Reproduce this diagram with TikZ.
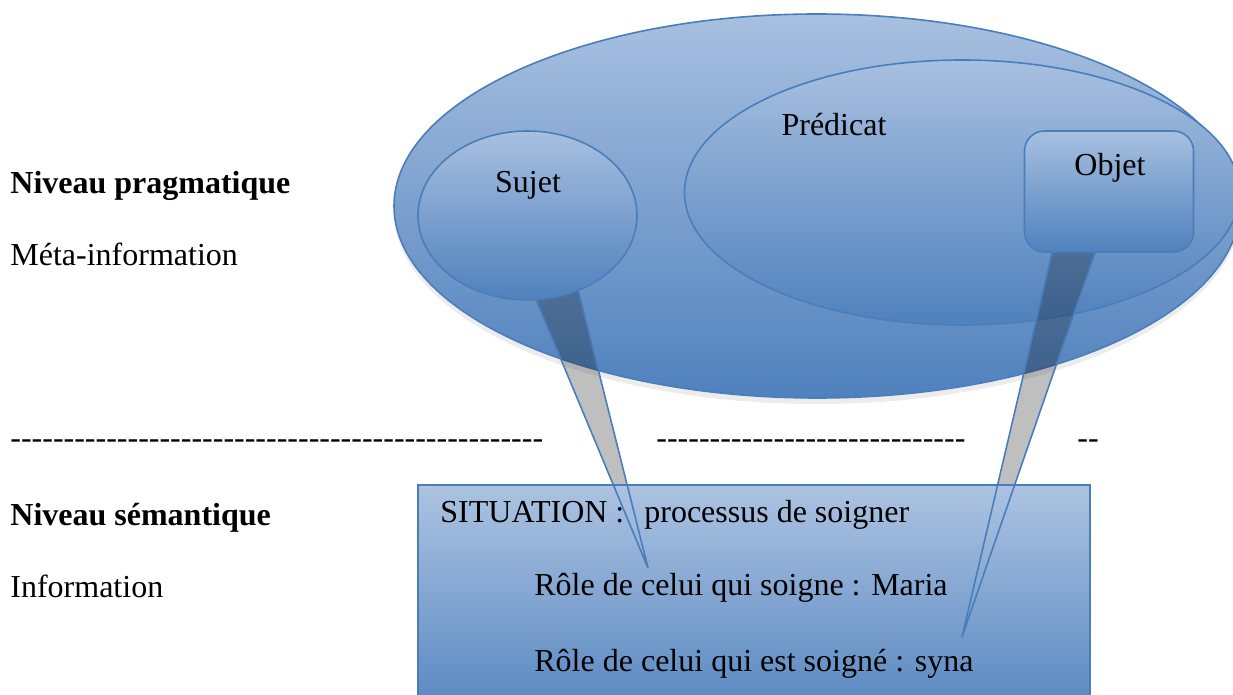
\documentclass[tikz,border=0pt]{standalone}
\usepackage{fontspec}
\setmainfont{Liberation Serif}[Ligatures=TeXOff]
\usetikzlibrary{positioning, shapes.geometric, shadows}
\definecolor{bleuhaut}{RGB}{168,192,224}
\definecolor{bleubas}{RGB}{79,129,189}
\definecolor{bleutrait}{RGB}{74,126,187}
\newcommand{\tirets}[1]{\foreach \n in {1,...,#1}{-}}
\pgfdeclarelayer{fond}
\pgfdeclarelayer{queues}
\pgfsetlayers{fond,queues,main}

\begin{document}
\begin{tikzpicture}[
    % GLOBAL CFG
    x=0.5pt, y=-0.5pt,
    font=\fontsize{16}{19}\selectfont,
    every node/.style={inner sep=0pt},
    % Styles
    bulle/.style={% For the ellipses
        ellipse,
        draw=bleutrait,
        line width=0.8pt,
        top color=bleuhaut,
        bottom color=bleubas,
        middle color=bleuhaut!50!bleubas,
    },
    boite/.style={% For the Objet box
        rectangle,
        rounded corners=10pt,
        draw=bleutrait,
        line width=0.8pt,
        top color=bleuhaut,
        bottom color=bleubas,
    },
    cadre/.style={% For the semantic frame
        rectangle,
        draw=bleutrait,
        line width=0.8pt,
        top color=bleuhaut!95!white,
        bottom color=bleubas,
    },
    ombre/.style={% Soft shadow under shapes
        drop shadow={shadow xshift=0pt, shadow yshift=-3pt, opacity=0.15},
    },
    queue/.style={% Fill of the callout tails
        fill=black,
        fill opacity=0.25,
    },
    queuebord/.style={% Border of the callout tails
        draw=bleutrait,
        line width=0.8pt,
    },
    titre/.style={
        font=\fontsize{16}{19}\selectfont\bfseries
    },
    ]

    \useasboundingbox (0,0) rectangle (1233,695);
    \clip (0,0) rectangle (1233,695);

    % Draw big shapes on the back layer
    \begin{pgfonlayer}{fond}
    \node [bulle, ombre, minimum width=423pt, minimum height=192pt] (phrase) at (817,206) {};
    \node [bulle, minimum width=277.5pt, minimum height=132.5pt] (predicat) at (962,192.5) {};
    \end{pgfonlayer}

    % Draw callouts
    \node [bulle, minimum width=109.5pt, minimum height=84.5pt] (sujet) at (527.5,215.5) {};
    \node [boite, minimum width=84.5pt, minimum height=60.5pt] (objet) at (1109,191.5) {};

    % Tips of the tails
    \coordinate (pointeS) at (648,568);
    \coordinate (pointeO) at (962,637);

    \begin{pgfonlayer}{queues}
    \fill [queue] (sujet.-84) -- (pointeS) -- (sujet.-56) -- cycle;
    \fill [queue] ([xshift=-28.5pt]objet.south) -- (pointeO) -- ([xshift=-7pt]objet.south) -- cycle;
    \end{pgfonlayer}

    % Draw semantic frame
    \node [cadre, ombre, minimum width=336pt, minimum height=125pt] (situation) at (754,610) {};

    % Tail borders
    \draw [queuebord] (sujet.-84) -- (pointeS) -- (sujet.-56);
    \draw [queuebord] ([xshift=-28.5pt]objet.south) -- (pointeO) -- ([xshift=-7pt]objet.south);

    % Text in shapes
    \node [anchor=base] (tsujet) at (528,193) {Sujet};
    \node [anchor=base] (tpredicat) at (834,136) {Prédicat};
    \node [anchor=base] (tobjet) at (1110,176) {Objet};

    \node [anchor=base west] (tsituation) at (440,523) {SITUATION :\hspace{10pt}processus de soigner};
    \node [anchor=base west] (trole1) at (534,596) {Rôle de celui qui soigne : Maria};
    \node [anchor=base west] (trole2) at (534,671) {Rôle de celui qui est soigné : syna};

    % Levels
    \node [titre, anchor=base west] (pragma) at (10,194) {Niveau pragmatique};
    \node [anchor=base west] (meta) at (10,266) {Méta-information};
    \node [anchor=base west] (tirets1) at (10,449) {\tirets{50}};
    \node [anchor=base west] (tirets2) at (656,449) {\tirets{29}};
    \node [anchor=base west] (tirets3) at (1077,449) {\tirets{2}};
    \node [titre, anchor=base west] (semant) at (10,525) {Niveau sémantique};
    \node [anchor=base west] (info) at (10,597) {Information};

\end{tikzpicture}
\end{document}
